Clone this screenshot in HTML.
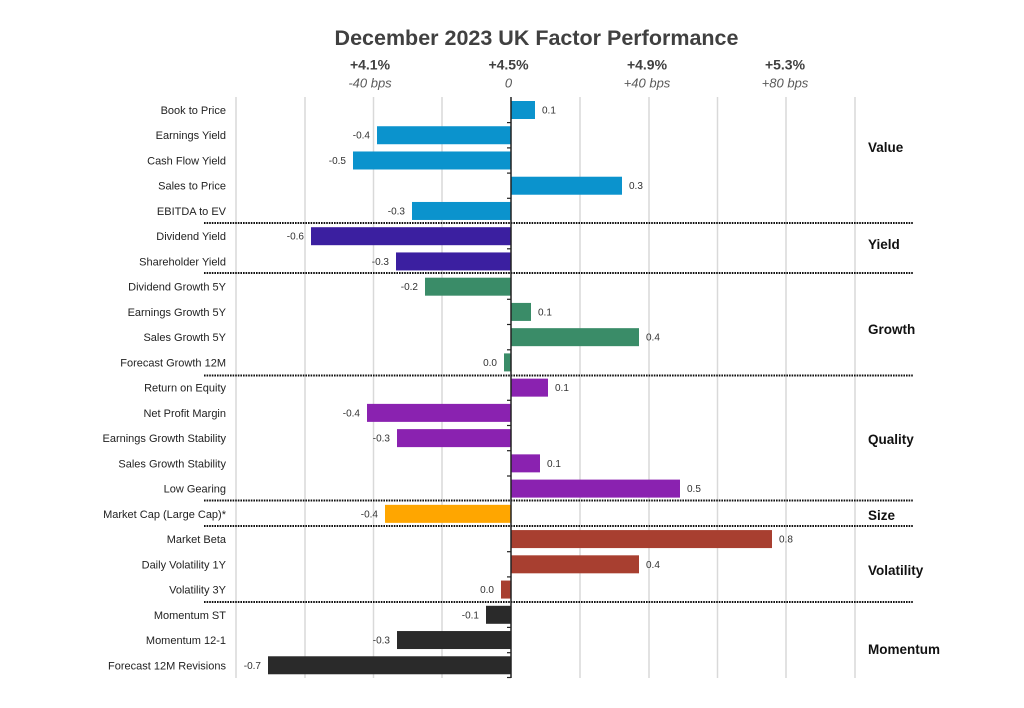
<!DOCTYPE html>
<html>
<head>
<meta charset="utf-8">
<style>
  html,body{margin:0;padding:0;background:#fff;}
  svg{display:block;}
  .cat{font-family:"Liberation Sans",Arial,sans-serif;font-size:11px;fill:#222;text-anchor:end;}
  .val{font-family:"Liberation Sans",Arial,sans-serif;font-size:10px;fill:#333;}
  .grp{font-family:"Liberation Sans",Arial,sans-serif;font-size:13.5px;font-weight:bold;fill:#111;}
  .hd{font-family:"Liberation Sans",Arial,sans-serif;font-size:14px;font-weight:bold;fill:#404040;text-anchor:middle;}
  .bp{font-family:"Liberation Sans",Arial,sans-serif;font-size:13px;font-style:italic;fill:#595959;text-anchor:middle;}
  .grid{stroke:#d9d9d9;stroke-width:1.5;}
  .sep{stroke:#111;stroke-width:2;stroke-dasharray:1.6 1;}
</style>
</head>
<body>
<svg width="1024" height="708" viewBox="0 0 1024 708" xmlns="http://www.w3.org/2000/svg">
  <rect width="1024" height="708" fill="#fff"/>
  <text x="536.5" y="45" text-anchor="middle" font-family="Liberation Sans, Arial, sans-serif" font-size="21.5" font-weight="bold" fill="#404040">December 2023 UK Factor Performance</text>

  <text class="hd" x="370" y="69.5">+4.1%</text>
  <text class="hd" x="508.5" y="69.5">+4.5%</text>
  <text class="hd" x="647" y="69.5">+4.9%</text>
  <text class="hd" x="785" y="69.5">+5.3%</text>
  <text class="bp" x="370" y="87.5">-40 bps</text>
  <text class="bp" x="508.5" y="87.5">0</text>
  <text class="bp" x="647" y="87.5">+40 bps</text>
  <text class="bp" x="785" y="87.5">+80 bps</text>

  <!-- gridlines -->
  <line class="grid" x1="236" y1="97" x2="236" y2="678"/>
  <line class="grid" x1="305" y1="97" x2="305" y2="678"/>
  <line class="grid" x1="373.5" y1="97" x2="373.5" y2="678"/>
  <line class="grid" x1="442" y1="97" x2="442" y2="678"/>
  <line class="grid" x1="580" y1="97" x2="580" y2="678"/>
  <line class="grid" x1="649" y1="97" x2="649" y2="678"/>
  <line class="grid" x1="717.5" y1="97" x2="717.5" y2="678"/>
  <line class="grid" x1="786" y1="97" x2="786" y2="678"/>
  <line class="grid" x1="855" y1="97" x2="855" y2="678"/>

  <!-- bars -->
  <g>
    <rect x="511" y="101" width="24" height="18" fill="#0b93cd"/>
    <rect x="377" y="126.24" width="134" height="18" fill="#0b93cd"/>
    <rect x="353" y="151.48" width="158" height="18" fill="#0b93cd"/>
    <rect x="511" y="176.72" width="111" height="18" fill="#0b93cd"/>
    <rect x="412" y="201.96" width="99" height="18" fill="#0b93cd"/>

    <rect x="311" y="227.2" width="200" height="18" fill="#3b1fa0"/>
    <rect x="396" y="252.44" width="115" height="18" fill="#3b1fa0"/>

    <rect x="425" y="277.68" width="86" height="18" fill="#3a8c68"/>
    <rect x="511" y="302.92" width="20" height="18" fill="#3a8c68"/>
    <rect x="511" y="328.16" width="128" height="18" fill="#3a8c68"/>
    <rect x="504" y="353.4" width="7" height="18" fill="#3a8c68"/>

    <rect x="511" y="378.64" width="37" height="18" fill="#8a22b0"/>
    <rect x="367" y="403.88" width="144" height="18" fill="#8a22b0"/>
    <rect x="397" y="429.12" width="114" height="18" fill="#8a22b0"/>
    <rect x="511" y="454.36" width="29" height="18" fill="#8a22b0"/>
    <rect x="511" y="479.6" width="169" height="18" fill="#8a22b0"/>

    <rect x="385" y="504.84" width="126" height="18" fill="#ffa600"/>

    <rect x="511" y="530.08" width="261" height="18" fill="#a83f30"/>
    <rect x="511" y="555.32" width="128" height="18" fill="#a83f30"/>
    <rect x="501" y="580.56" width="10" height="18" fill="#a83f30"/>

    <rect x="486" y="605.8" width="25" height="18" fill="#2a2a2a"/>
    <rect x="397" y="631.04" width="114" height="18" fill="#2a2a2a"/>
    <rect x="268" y="656.28" width="243" height="18" fill="#2a2a2a"/>
  </g>

  <!-- separators -->
  <line class="sep" x1="204" y1="223" x2="913" y2="223"/>
  <line class="sep" x1="204" y1="273" x2="913" y2="273"/>
  <line class="sep" x1="204" y1="375.5" x2="913" y2="375.5"/>
  <line class="sep" x1="204" y1="500.5" x2="913" y2="500.5"/>
  <line class="sep" x1="204" y1="526" x2="913" y2="526"/>
  <line class="sep" x1="204" y1="602" x2="913" y2="602"/>

  <!-- axis -->
  <line x1="511" y1="97" x2="511" y2="678" stroke="#222" stroke-width="1.5"/>
  <g stroke="#222" stroke-width="1.2">
    <line x1="507" y1="122.6" x2="511" y2="122.6"/>
    <line x1="507" y1="147.9" x2="511" y2="147.9"/>
    <line x1="507" y1="173.1" x2="511" y2="173.1"/>
    <line x1="507" y1="198.3" x2="511" y2="198.3"/>
    <line x1="507" y1="248.8" x2="511" y2="248.8"/>
    <line x1="507" y1="299.3" x2="511" y2="299.3"/>
    <line x1="507" y1="324.5" x2="511" y2="324.5"/>
    <line x1="507" y1="349.8" x2="511" y2="349.8"/>
    <line x1="507" y1="400.3" x2="511" y2="400.3"/>
    <line x1="507" y1="425.5" x2="511" y2="425.5"/>
    <line x1="507" y1="450.7" x2="511" y2="450.7"/>
    <line x1="507" y1="476" x2="511" y2="476"/>
    <line x1="507" y1="551.7" x2="511" y2="551.7"/>
    <line x1="507" y1="576.9" x2="511" y2="576.9"/>
    <line x1="507" y1="627.4" x2="511" y2="627.4"/>
    <line x1="507" y1="652.7" x2="511" y2="652.7"/>
    <line x1="507" y1="677.5" x2="511" y2="677.5"/>
  </g>

  <!-- category labels -->
  <text class="cat" x="226" y="114">Book to Price</text>
  <text class="cat" x="226" y="139.2">Earnings Yield</text>
  <text class="cat" x="226" y="164.5">Cash Flow Yield</text>
  <text class="cat" x="226" y="189.7">Sales to Price</text>
  <text class="cat" x="226" y="215">EBITDA to EV</text>
  <text class="cat" x="226" y="240.2">Dividend Yield</text>
  <text class="cat" x="226" y="265.4">Shareholder Yield</text>
  <text class="cat" x="226" y="290.7">Dividend Growth 5Y</text>
  <text class="cat" x="226" y="315.9">Earnings Growth 5Y</text>
  <text class="cat" x="226" y="341.2">Sales Growth 5Y</text>
  <text class="cat" x="226" y="366.4">Forecast Growth 12M</text>
  <text class="cat" x="226" y="391.6">Return on Equity</text>
  <text class="cat" x="226" y="416.9">Net Profit Margin</text>
  <text class="cat" x="226" y="442.1">Earnings Growth Stability</text>
  <text class="cat" x="226" y="467.4">Sales Growth Stability</text>
  <text class="cat" x="226" y="492.6">Low Gearing</text>
  <text class="cat" x="226" y="517.8">Market Cap (Large Cap)*</text>
  <text class="cat" x="226" y="543.1">Market Beta</text>
  <text class="cat" x="226" y="568.3">Daily Volatility 1Y</text>
  <text class="cat" x="226" y="593.6">Volatility 3Y</text>
  <text class="cat" x="226" y="618.8">Momentum ST</text>
  <text class="cat" x="226" y="644">Momentum 12-1</text>
  <text class="cat" x="226" y="669.3">Forecast 12M Revisions</text>

  <!-- value labels -->
  <text class="val" x="542" y="113.5">0.1</text>
  <text class="val" x="370" y="138.7" text-anchor="end">-0.4</text>
  <text class="val" x="346" y="164" text-anchor="end">-0.5</text>
  <text class="val" x="629" y="189.2">0.3</text>
  <text class="val" x="405" y="214.5" text-anchor="end">-0.3</text>
  <text class="val" x="304" y="239.7" text-anchor="end">-0.6</text>
  <text class="val" x="389" y="264.9" text-anchor="end">-0.3</text>
  <text class="val" x="418" y="290.2" text-anchor="end">-0.2</text>
  <text class="val" x="538" y="315.4">0.1</text>
  <text class="val" x="646" y="340.7">0.4</text>
  <text class="val" x="497" y="365.9" text-anchor="end">0.0</text>
  <text class="val" x="555" y="391.1">0.1</text>
  <text class="val" x="360" y="416.4" text-anchor="end">-0.4</text>
  <text class="val" x="390" y="441.6" text-anchor="end">-0.3</text>
  <text class="val" x="547" y="466.9">0.1</text>
  <text class="val" x="687" y="492.1">0.5</text>
  <text class="val" x="378" y="517.3" text-anchor="end">-0.4</text>
  <text class="val" x="779" y="542.6">0.8</text>
  <text class="val" x="646" y="567.8">0.4</text>
  <text class="val" x="494" y="593.1" text-anchor="end">0.0</text>
  <text class="val" x="479" y="618.3" text-anchor="end">-0.1</text>
  <text class="val" x="390" y="643.5" text-anchor="end">-0.3</text>
  <text class="val" x="261" y="668.8" text-anchor="end">-0.7</text>

  <!-- group labels -->
  <text class="grp" x="868" y="152">Value</text>
  <text class="grp" x="868" y="249">Yield</text>
  <text class="grp" x="868" y="334">Growth</text>
  <text class="grp" x="868" y="444">Quality</text>
  <text class="grp" x="868" y="520">Size</text>
  <text class="grp" x="868" y="575">Volatility</text>
  <text class="grp" x="868" y="654">Momentum</text>
</svg>
</body>
</html>
